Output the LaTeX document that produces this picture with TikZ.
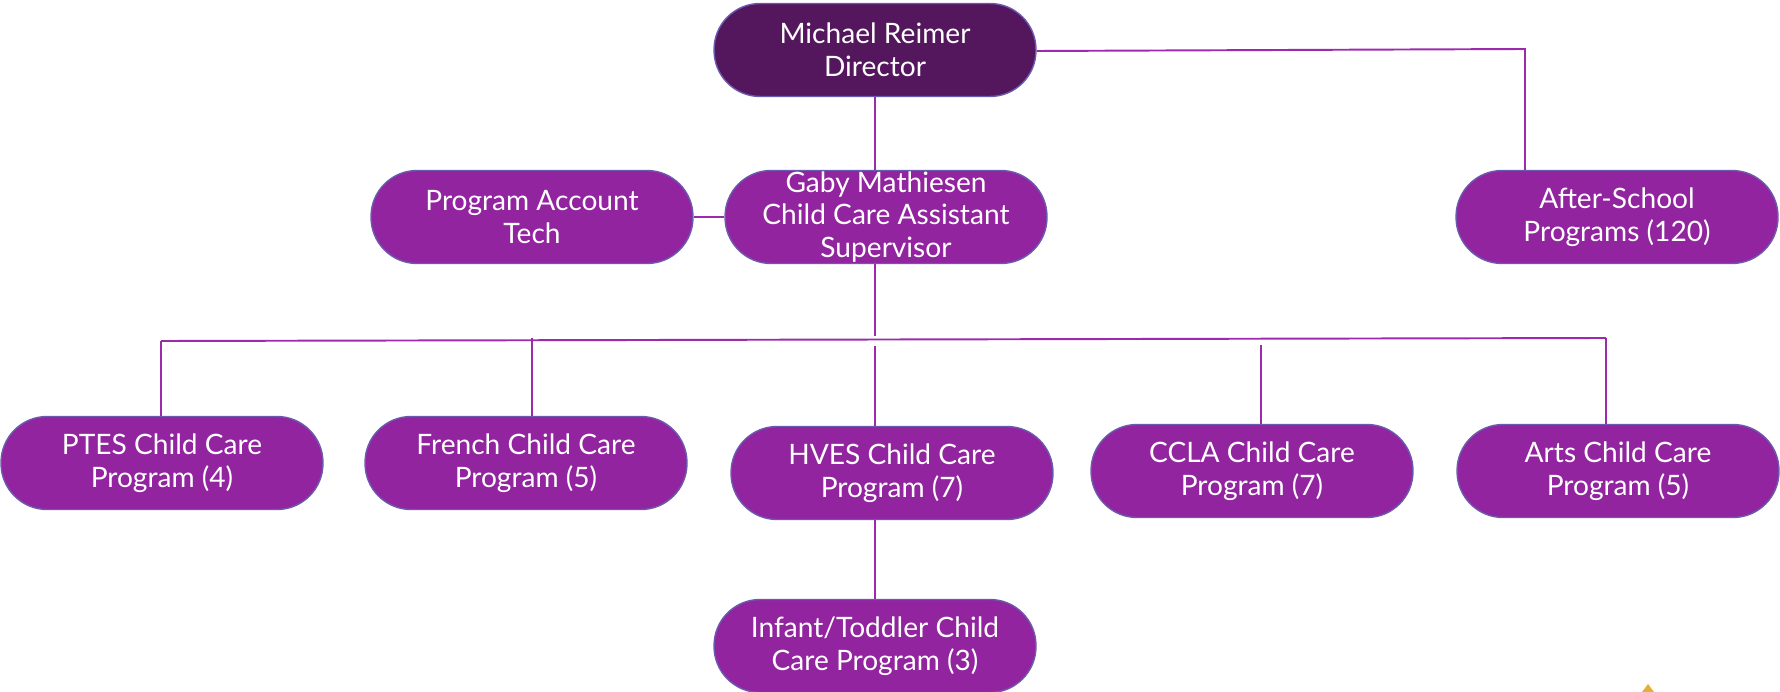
\documentclass[tikz,border=0pt]{standalone}
\usepackage{fontspec}
\setmainfont{Lato}
\usetikzlibrary{positioning}
\definecolor{darkplum}{HTML}{54175E}
\definecolor{plum}{HTML}{9224A0}
\definecolor{rimblue}{HTML}{6B5BAE}
\definecolor{wirepurple}{HTML}{9C2BAC}
\definecolor{gold}{HTML}{E3AE3A}

\begin{document}
\begin{tikzpicture}[x=0.02cm,y=-0.02cm,
  pill/.style={draw=rimblue,line width=0.8pt,fill=plum,text=white,rounded corners=0.92cm,
    minimum width=6.44cm,minimum height=1.86cm,inner sep=0pt,align=center,
    font=\fontsize{16}{18.5}\selectfont},
  link/.style={draw=wirepurple,line width=1.1pt}]
  \useasboundingbox (0,0) rectangle (1780,692);

  \node[pill,fill=darkplum] (dir) at (875,50) {Michael Reimer\\Director};
  \node[pill] (acct) at (532,217) {Program Account\\Tech};
  \node[pill] (sup) at (886,217) {Gaby Mathiesen\\Child Care Assistant\\Supervisor};
  \node[pill] (after) at (1617,217) {After-School\\Programs (120)};

  \node[pill] (ptes) at (162,463) {PTES Child Care\\Program (4)};
  \node[pill] (french) at (526,463) {French Child Care\\Program (5)};
  \node[pill] (hves) at (892,473) {HVES Child Care\\Program (7)};
  \node[pill] (ccla) at (1252,471) {CCLA Child Care\\Program (7)};
  \node[pill] (arts) at (1618,471) {Arts Child Care\\Program (5)};
  \node[pill] (infant) at (875,646) {Infant/Toddler Child\\Care Program (3)};

  \coordinate (turn) at (1525,49);
  \coordinate (stem) at (875,336);
  \coordinate (busL) at (161,341);
  \coordinate (busR) at (1606,338);

  \draw[link] (dir.south -| stem) -- (sup.north -| stem);
  \draw[link] (dir.east |- 0,51) -- (turn) -- (after.north -| turn);
  \draw[link] (acct) -- (sup);
  \draw[link] (sup.south -| stem) -- (stem);
  \draw[link] (busL) -- (busR);
  \draw[link] (busL) -- (ptes.north -| busL);
  \draw[link] (532,338) -- (french.north -| 532,0);
  \draw[link] (875,346) -- (hves.north -| 875,0);
  \draw[link] (1261,345) -- (ccla.north -| 1261,0);
  \draw[link] (busR) -- (arts.north -| busR);
  \draw[link] (hves.south -| 875,0) -- (infant.north -| 875,0);

  \fill[gold] (1642,692) -- (1648,684) -- (1654,692) -- cycle;
\end{tikzpicture}
\end{document}
